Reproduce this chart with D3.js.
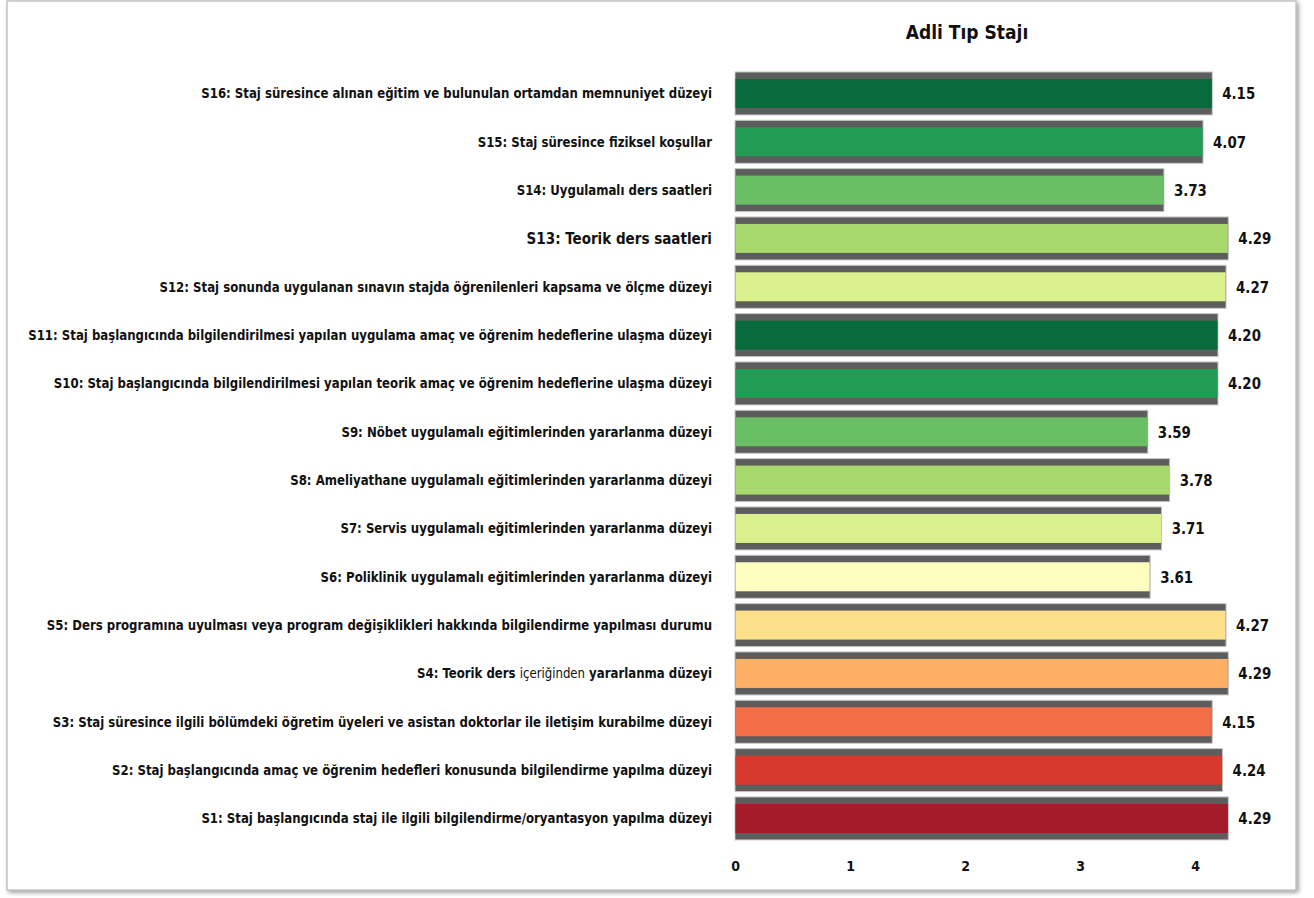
<!DOCTYPE html>
<html><head><meta charset="utf-8">
<script src="https://cdn.jsdelivr.net/npm/d3@7"></script>
<style>body{margin:0;background:#fff;}</style>
</head><body>
<svg id="c" width="1314" height="898"></svg>
<script>
const title = "Adli Tıp Stajı";
const categories = [
  "S16: Staj süresince alınan eğitim ve bulunulan ortamdan memnuniyet düzeyi",
  "S15: Staj süresince fiziksel koşullar",
  "S14: Uygulamalı ders saatleri",
  "S13: Teorik ders saatleri",
  "S12: Staj sonunda uygulanan sınavın stajda öğrenilenleri kapsama ve ölçme düzeyi",
  "S11: Staj başlangıcında bilgilendirilmesi yapılan uygulama amaç ve öğrenim hedeflerine ulaşma düzeyi",
  "S10: Staj başlangıcında bilgilendirilmesi yapılan teorik amaç ve öğrenim hedeflerine ulaşma düzeyi",
  "S9: Nöbet uygulamalı eğitimlerinden yararlanma düzeyi",
  "S8: Ameliyathane uygulamalı eğitimlerinden yararlanma düzeyi",
  "S7: Servis uygulamalı eğitimlerinden yararlanma düzeyi",
  "S6: Poliklinik uygulamalı eğitimlerinden yararlanma düzeyi",
  "S5: Ders programına uyulması veya program değişiklikleri hakkında bilgilendirme yapılması durumu",
  "S4: Teorik ders içeriğinden yararlanma düzeyi",
  "S3: Staj süresince ilgili bölümdeki öğretim üyeleri ve asistan doktorlar ile iletişim kurabilme düzeyi",
  "S2: Staj başlangıcında amaç ve öğrenim hedefleri konusunda bilgilendirme yapılma düzeyi",
  "S1: Staj başlangıcında staj ile ilgili bilgilendirme/oryantasyon yapılma düzeyi"
];
const values = [4.15, 4.07, 3.73, 4.29, 4.27, 4.20, 4.20, 3.59, 3.78, 3.71, 3.61, 4.27, 4.29, 4.15, 4.24, 4.29];
const colors = ["#086b3b","#229c54","#6abf64","#a6d86b","#daf08c","#086b3b","#229c54","#6abf64","#a6d86b","#daf08c","#fefec0","#fde08c","#fdb063","#f46e47","#d7392d","#a41c2a"];
const tickValues = [0, 1, 2, 3, 4];

const FONT = "'DejaVu Sans Condensed','DejaVu Sans',sans-serif";
const svg = d3.select("#c");

// frame with shadow
const defs = svg.append("defs");
const f = defs.append("filter").attr("id","sh").attr("x","-5%").attr("y","-5%").attr("width","110%").attr("height","110%");
f.append("feDropShadow").attr("dx",2).attr("dy",2).attr("stdDeviation",2).attr("flood-color","#777").attr("flood-opacity",0.7);
svg.append("rect").attr("x",7).attr("y",1).attr("width",1289).attr("height",889)
  .attr("fill","#fff").attr("stroke","#c4c4c4").attr("stroke-width",1.5).attr("filter","url(#sh)");

const x = d3.scaleLinear().domain([0, 4.5]).range([735, 735 + 4.5 * 115]);
const y = d3.scaleBand().domain(categories).range([69.3, 842.6]).paddingInner(0.11).paddingOuter(0.055);
const bw = y.bandwidth();
const inset = 7;

svg.append("text").attr("x", 967).attr("y", 39).attr("text-anchor","middle")
  .attr("font-family", FONT).attr("font-weight","bold").attr("font-size", 19).attr("fill","#111").text(title);

const g = svg.append("g");
const rows = g.selectAll("g.row").data(categories).join("g").attr("class","row");
rows.append("rect").attr("x", x(0)).attr("y", d => y(d)).attr("width", (d,i) => x(values[i]) - x(0)).attr("height", bw)
  .attr("fill", "#5d5d5d").attr("stroke", "#c8c8c8").attr("stroke-width", 1);
rows.append("rect").attr("x", x(0) + 0.5).attr("y", d => y(d) + inset).attr("width", (d,i) => x(values[i]) - x(0) - 1).attr("height", bw - 2 * inset)
  .attr("fill", (d,i) => colors[i]);
rows.append("text")
  .attr("transform", (d,i) => `translate(${x(values[i]) + 10},${y(d) + bw / 2}) scale(0.9,1)`)
  .attr("dy","0.35em")
  .attr("font-family", FONT).attr("font-weight","bold").attr("font-size", 16.5).attr("fill","#111")
  .text((d,i) => d3.format(".2f")(values[i]));

// labels
const LFS = 13.5;
const labels = g.selectAll("text.lab").data(categories).join("text").attr("class","lab")
  .attr("x", 0).attr("y", 0).attr("dy","0.35em").attr("text-anchor","end")
  .attr("font-family", FONT).attr("font-size", (d) => d.startsWith("S13:") ? LFS * 1.15 : LFS).attr("fill","#111");
labels.each(function(d) {
  const t = d3.select(this);
  const idx = d.indexOf(":");
  t.append("tspan").attr("font-weight","bold").text(d.slice(0, idx + 1));
  const rest = d.slice(idx + 1);
  const light = "içeriğinden";
  const li = rest.indexOf(light);
  if (li >= 0) {
    t.append("tspan").attr("font-weight","bold").text(rest.slice(0, li));
    t.append("tspan").attr("font-weight","normal").text(light);
    t.append("tspan").attr("font-weight","bold").text(rest.slice(li + light.length));
  } else {
    t.append("tspan").attr("font-weight","bold").text(rest);
  }
});
// compress horizontally so the longest label matches the reference width
let maxW = 0;
labels.each(function(){ maxW = Math.max(maxW, this.getComputedTextLength()); });
const sx = 685 / maxW;
labels.attr("transform", d => `translate(712,${y(d) + bw / 2}) scale(${sx},1)`);

// axis
const axis = d3.axisBottom(x).tickValues(tickValues).tickSize(0).tickPadding(0).tickFormat(d3.format("d"));
const ag = svg.append("g").attr("transform", "translate(0,861)").call(axis);
ag.select(".domain").remove();
ag.selectAll("text").attr("font-family", FONT).attr("font-weight","bold").attr("font-size", 14).attr("fill","#111");
</script>
</body></html>
